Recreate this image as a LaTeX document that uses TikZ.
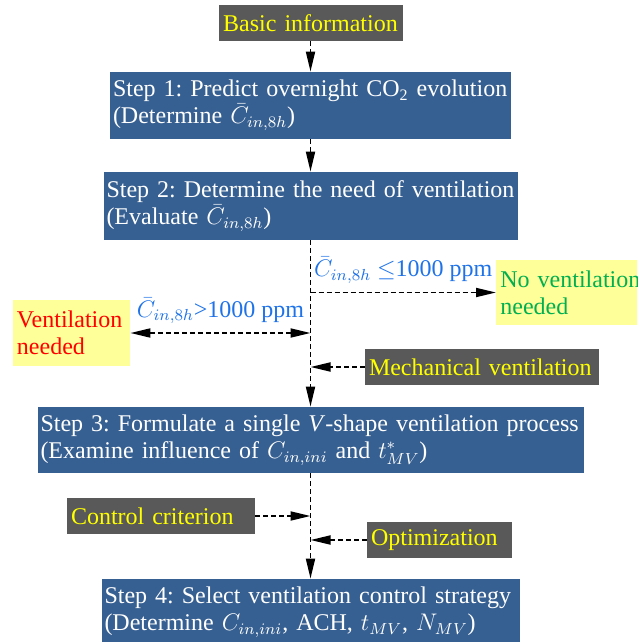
\documentclass[tikz,border=0pt]{standalone}
\usepackage{fontspec}
\setmainfont{Liberation Serif}
\usetikzlibrary{arrows.meta}

\definecolor{stepblue}{RGB}{55,96,146}
\definecolor{infogray}{RGB}{89,89,89}
\definecolor{noteyellow}{RGB}{255,255,153}
\definecolor{txtyellow}{RGB}{255,255,0}
\definecolor{lblblue}{RGB}{31,115,232}
\definecolor{okgreen}{RGB}{0,176,80}

\frenchspacing
\hyphenpenalty=10000
\exhyphenpenalty=10000

\begin{document}
\begin{tikzpicture}[
    x=0.5pt, y=-0.5pt,
    font=\fontsize{12}{13.5}\selectfont,
    >={Triangle[length=10pt,width=4.5pt]},
    stepbox/.style={
        fill=stepblue,
        text=white,
        align=left,
        inner xsep=1.5pt,
        inner ysep=0pt,
        minimum height=33.5pt
    },
    infobox/.style={
        fill=infogray,
        text=txtyellow,
        align=left,
        inner xsep=2pt,
        inner ysep=0pt,
        minimum height=18pt
    },
    notebox/.style={
        fill=noteyellow,
        align=left,
        inner xsep=2pt,
        inner ysep=0pt,
        minimum height=33pt
    },
    cond/.style={
        text=lblblue,
        inner sep=1pt
    },
    arrow/.style={
        ->,
        line width=0.9pt,
        dash pattern=on 2.5pt off 1.5pt
    }
]

\clip (0,0) rectangle (637,642);

\node[infobox, text width=88pt, align=center] (basic) at (310.5,23) {Basic information};
\node[stepbox, text width=197.5pt] (step1) at (310.5,105.5) {Step 1: Predict overnight CO\textsubscript{2} evolution\\(Determine $\bar{C}_{in,8h}$)};
\node[stepbox, text width=204pt, minimum height=34pt] (step2) at (310.5,206) {Step 2: Determine the need of ventilation\\(Evaluate $\bar{C}_{in,8h}$)};
\node[notebox, text=okgreen, text width=80pt, minimum height=32.5pt, anchor=west] (nov) at (496,292.5) {No ventilation\\needed};
\node[notebox, text=red, text width=54.5pt] (ven) at (71.5,333) {Ventilation\\needed};
\node[infobox, text width=113pt] (mech) at (482,367) {Mechanical ventilation};
\node[stepbox, text width=270pt, minimum height=33pt] (step3) at (310.5,440) {Step 3: Formulate a single \textit{V}-shape ventilation process\\(Examine influence of $C_{in,ini}$ and $t^{*}_{MV}$)};
\node[infobox, text width=90pt] (ctrl) at (161,516) {Control criterion};
\node[infobox, text width=68.5pt] (opt) at (439.5,540) {Optimization};
\node[stepbox, text width=206pt] (step4) at (310.5,612.5) {Step 4: Select ventilation control strategy\\(Determine $C_{in,ini}$, ACH, $t_{MV}$, $N_{MV}$)};

\coordinate (jno) at (step2.south |- nov.west);
\coordinate (jyes) at (step2.south |- ven.east);
\coordinate (jmech) at (step2.south |- mech.west);
\coordinate (jctrl) at (step3.south |- ctrl.east);
\coordinate (jopt) at (step3.south |- opt.west);

\draw[arrow] (basic) -- (step1);
\draw[arrow] (step1) -- (step2);
\draw[arrow] (step2) -- (step3);
\draw[arrow] (step3) -- (step4);

\draw[arrow] (jno) -- node[cond, above=3pt] (lessthan) {$\bar{C}_{in,8h}$ $\leq$1000 ppm} (nov);
\draw[arrow, <->] (ven) -- node[cond, above=3pt] (morethan) {$\bar{C}_{in,8h}$>1000 ppm} (jyes);
\draw[arrow] (mech) -- (jmech);
\draw[arrow] (ctrl) -- (jctrl);
\draw[arrow] (opt) -- (jopt);

\end{tikzpicture}
\end{document}
